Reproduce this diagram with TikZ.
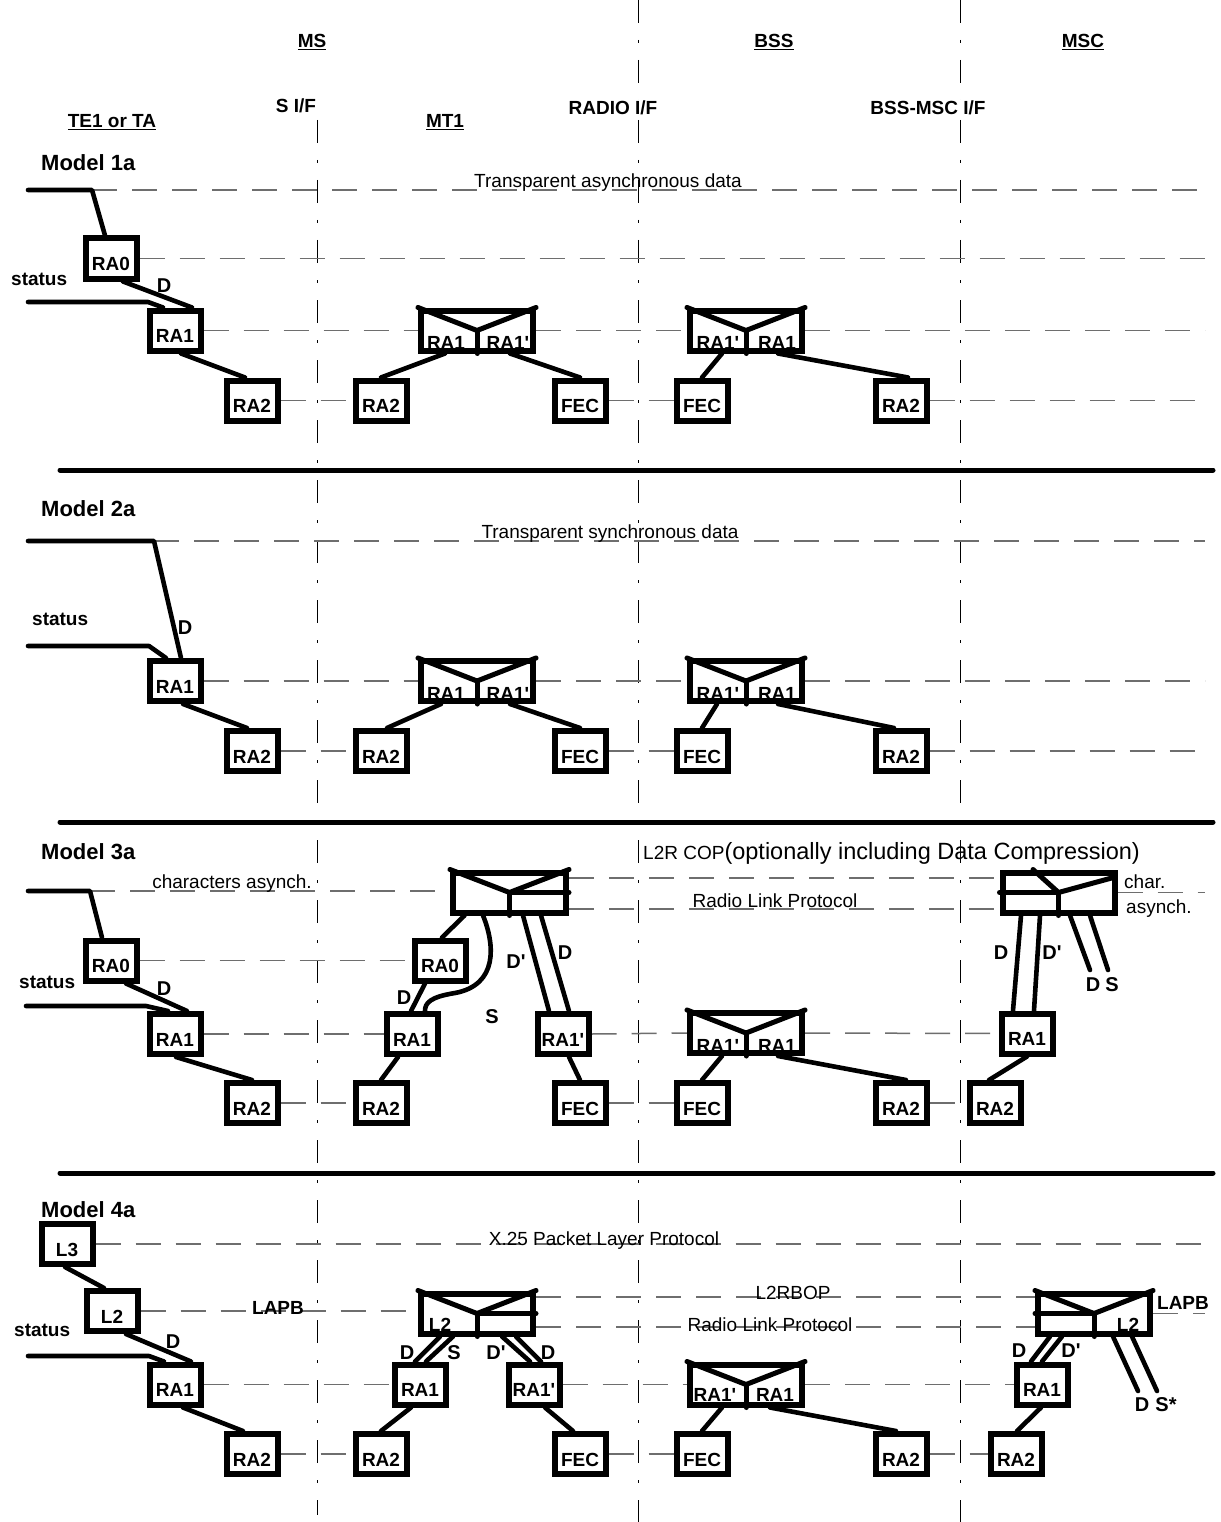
\documentclass[tikz,border=0pt]{standalone}
\usepackage{fontspec}
\newfontfamily\arialf{Liberation Sans}
\usetikzlibrary{backgrounds}
\definecolor{protogray}{RGB}{110,110,110}
\tikzset{
  box/.style={draw, line width=6pt, fill=white, minimum width=51pt, minimum height=40pt, inner sep=0pt, font=\arialf\bfseries\fontsize{19}{19}\selectfont, text height=24pt, text depth=0pt},
  cbox/.style={draw, line width=6pt, fill=white, minimum width=112pt, minimum height=40pt, inner sep=0pt},
  split/.style={line width=5pt, line cap=round, line join=round},
  conn/.style={line width=4.6pt, line cap=round, line join=round},
  proto/.style={draw=protogray, line width=1.5pt, dash pattern=on 25pt off 15pt},
  ifline/.style={draw=black, line width=1pt, dash pattern=on 23pt off 17pt on 3pt off 17pt},
  sepline/.style={line width=5pt, line cap=round},
  hlbl/.style={inner sep=0pt, anchor=base, font=\arialf\bfseries\fontsize{19}{19}\selectfont},
  mlbl/.style={inner sep=0pt, anchor=base west, font=\arialf\bfseries\fontsize{22}{22}\selectfont},
  slbl/.style={inner sep=0pt, anchor=base west, font=\arialf\bfseries\fontsize{19}{19}\selectfont},
  sig/.style={inner sep=0pt, anchor=center, font=\arialf\bfseries\fontsize{20}{20}\selectfont},
  blbl/.style={inner sep=0pt, anchor=base, font=\arialf\bfseries\fontsize{19}{19}\selectfont},
  ptext/.style={inner sep=0pt, anchor=base, font=\arialf\fontsize{19}{19}\selectfont},
}
\begin{document}
\begin{tikzpicture}[x=1pt,y=-1pt]
\useasboundingbox (0,0) rectangle (1220,1522);
\coordinate (R) at (1205,0);

% ---------------- headings
\node[hlbl] (hms) at (312,48) {\underline{MS}};
\node[hlbl] (hbss) at (774,48) {\underline{BSS}};
\node[hlbl] (hmsc) at (1083,48) {\underline{MSC}};
\node[hlbl] (hsif) at (296,113) {S I/F};
\node[hlbl,fill=white,inner sep=1pt] (hradio) at (613,115) {RADIO I/F};
\node[hlbl,fill=white,inner sep=1pt] (hbssmsc) at (928,115) {BSS-MSC I/F};
\node[hlbl] (hte) at (112,128) {\underline{TE1 or TA}};
\node[hlbl] (hmt) at (445,128) {\underline{MT1}};

% ---------------- separators
\coordinate (s1l) at (60,470); \coordinate (s1r) at (1213,470);
\coordinate (s2l) at (60,822); \coordinate (s2r) at (1213,822);
\coordinate (s3l) at (60,1173); \coordinate (s3r) at (1213,1173);
\draw[sepline] (s1l) -- (s1r);
\draw[sepline] (s2l) -- (s2r);
\draw[sepline] (s3l) -- (s3r);

% =============== MODEL 1a
\node[mlbl] (m1t) at (41,171) {Model 1a};
\node[slbl] (m1s) at (11,285) {status};
\node[ptext] (m1p) at (608,188) {Transparent asynchronous data};
\node[box] (m1ra0) at (111,258.5) {RA0};
\node[box] (m1ra1) at (175,330.5) {RA1};
\node[box] (m1ra2) at (252,400.5) {RA2};
\node[box] (m1mra2) at (381,400.5) {RA2};
\node[cbox] (m1mc) at (477,330.5) {};
\node[box] (m1mfec) at (580,400.5) {FEC};
\node[cbox] (m1bc) at (746,330.5) {};
\node[box] (m1bfec) at (702,400.5) {FEC};
\node[box] (m1bra2) at (901,400.5) {RA2};
\draw[split] (m1mc.north west) -- (m1mc.center) -- (m1mc.north east);
\draw[split] (m1mc.center) -- (m1mc.south);
\draw[split] (m1bc.north west) -- (m1bc.center) -- (m1bc.north east);
\draw[split] (m1bc.center) -- (m1bc.south);
\node[blbl] at ([xshift=-31pt,yshift=4pt]m1mc.south) {RA1};
\node[blbl] at ([xshift=31pt,yshift=4pt]m1mc.south) {RA1'};
\node[blbl] at ([xshift=-28pt,yshift=4pt]m1bc.south) {RA1'};
\node[blbl] at ([xshift=31pt,yshift=4pt]m1bc.south) {RA1};
\coordinate (m1in) at (28,190); \coordinate (m1bend) at (92,190);
\coordinate (m1st) at (28,302); \coordinate (m1stb) at (148,302);
\draw[conn] (m1in) -- (m1bend) -- ([xshift=-6pt]m1ra0.north);
\draw[conn] ([xshift=12pt]m1ra0.south) -- ([xshift=17pt]m1ra1.north);
\draw[conn] (m1st) -- (m1stb) -- ([xshift=-12pt]m1ra1.north);
\draw[conn] ([xshift=6pt]m1ra1.south) -- ([xshift=-7pt]m1ra2.north);
\draw[conn] ([xshift=-32pt]m1mc.south) -- (m1mra2.north);
\draw[conn] ([xshift=33pt]m1mc.south) -- (m1mfec.north);
\draw[conn] ([xshift=-24pt]m1bc.south) -- (m1bfec.north);
\draw[conn] ([xshift=32pt]m1bc.south) -- ([xshift=7pt]m1bra2.north);
\node[sig] at (164,286) {D};

% =============== MODEL 2a
\node[mlbl] (m2t) at (41,516) {Model 2a};
\node[slbl] (m2s) at (32,625) {status};
\node[ptext] (m2p) at (610,538) {Transparent synchronous data};
\node[box] (m2ra1) at (175,681) {RA1};
\node[box] (m2ra2) at (252,751) {RA2};
\node[box] (m2mra2) at (381,751) {RA2};
\node[cbox] (m2mc) at (477,681) {};
\node[box] (m2mfec) at (580,751) {FEC};
\node[cbox] (m2bc) at (746,681) {};
\node[box] (m2bfec) at (702,751) {FEC};
\node[box] (m2bra2) at (901,751) {RA2};
\draw[split] (m2mc.north west) -- (m2mc.center) -- (m2mc.north east);
\draw[split] (m2mc.center) -- (m2mc.south);
\draw[split] (m2bc.north west) -- (m2bc.center) -- (m2bc.north east);
\draw[split] (m2bc.center) -- (m2bc.south);
\node[blbl] at ([xshift=-31pt,yshift=4pt]m2mc.south) {RA1};
\node[blbl] at ([xshift=31pt,yshift=4pt]m2mc.south) {RA1'};
\node[blbl] at ([xshift=-28pt,yshift=4pt]m2bc.south) {RA1'};
\node[blbl] at ([xshift=31pt,yshift=4pt]m2bc.south) {RA1};
\coordinate (m2in) at (28,541); \coordinate (m2bend) at (154,541);
\coordinate (m2st) at (28,646); \coordinate (m2stb) at (149,646);
\draw[conn] (m2in) -- (m2bend) -- ([xshift=6pt]m2ra1.north);
\draw[conn] (m2st) -- (m2stb) -- ([xshift=-9pt]m2ra1.north);
\draw[conn] ([xshift=8pt]m2ra1.south) -- ([xshift=-5pt]m2ra2.north);
\draw[conn] ([xshift=-36pt]m2mc.south) -- ([xshift=6pt]m2mra2.north);
\draw[conn] ([xshift=33pt]m2mc.south) -- (m2mfec.north);
\draw[conn] ([xshift=-29pt]m2bc.south) -- (m2bfec.north);
\draw[conn] ([xshift=32pt]m2bc.south) -- ([xshift=-7pt]m2bra2.north);
\node[sig] at (185,628) {D};

% =============== MODEL 3a
\node[mlbl] (m3t) at (41,859) {Model 3a};
\node[slbl] (m3s) at (19,988) {status};
\node[ptext] (m3p1) at (232,888) {characters asynch.};
\node[ptext,anchor=base west] (m3p2) at (643,859) {L2R COP{\fontsize{23.5}{24}\selectfont(optionally including Data Compression)}};
\node[ptext] (m3p3) at (775,907) {Radio Link Protocol};
\node[ptext,anchor=base west] (m3p4) at (1124,888) {char.};
\node[ptext,anchor=base west] (m3p5) at (1126,913) {asynch.};
\node[box] (m3ra0) at (111,960.5) {RA0};
\node[box] (m3ra1) at (175,1034) {RA1};
\node[box] (m3ra2) at (252,1103) {RA2};
\node[cbox,minimum width=113pt] (m3mc) at (509.5,892.5) {};
\node[box] (m3mra0) at (440,960.5) {RA0};
\node[box] (m3mra1) at (412,1034) {RA1};
\node[box] (m3mra2) at (381,1103) {RA2};
\node[box] (m3mra1p) at (563,1034) {RA1'};
\node[box] (m3mfec) at (580,1103) {FEC};
\node[cbox] (m3bc) at (746,1033) {};
\node[box] (m3bfec) at (702,1103) {FEC};
\node[box] (m3bra2) at (901,1103) {RA2};
\node[cbox] (m3sc) at (1058.5,892.5) {};
\node[box] (m3sra1) at (1027,1033.5) {RA1};
\node[box] (m3sra2) at (995,1103) {RA2};
\draw[split] (m3mc.north west) -- (m3mc.center) -- (m3mc.north east);
\draw[split] (m3mc.east) -- (m3mc.center) -- (m3mc.south);
\draw[split] (m3bc.north west) -- (m3bc.center) -- (m3bc.north east);
\draw[split] (m3bc.center) -- (m3bc.south);
\draw[split] ([xshift=-25.5pt]m3sc.north) -- (m3sc.center) -- ([xshift=-4pt,yshift=15pt]m3sc.east);
\draw[split] (m3sc.west) -- (m3sc.center) -- (m3sc.south);
\node[blbl] at ([xshift=-28pt,yshift=4pt]m3bc.south) {RA1'};
\node[blbl] at ([xshift=31pt,yshift=4pt]m3bc.south) {RA1};
\coordinate (m3in) at (28,891); \coordinate (m3bend) at (90,891);
\coordinate (m3st) at (26,1006); \coordinate (m3stb) at (146,1006);
\coordinate (m3sm) at (455,993);
\coordinate (m3ds1) at (1090,970); \coordinate (m3ds2) at (1108,970);
\draw[conn] (m3in) -- (m3bend) -- ([xshift=-9pt]m3ra0.north);
\draw[conn] ([xshift=15pt]m3ra0.south) -- ([xshift=12pt]m3ra1.north);
\draw[conn] (m3st) -- (m3stb) -- ([xshift=-7pt]m3ra1.north);
\draw[conn] ([xshift=1pt]m3ra1.south) -- (m3ra2.north);
\draw[conn] ([xshift=-45pt]m3mc.south) -- ([xshift=2pt]m3mra0.north);
\draw[conn] ([xshift=-26.5pt]m3mc.south) .. controls (495,945) and (498,985) .. (m3sm) .. controls (430,997) and (425,1003) .. ([xshift=13pt]m3mra1.north);
\draw[conn] ([xshift=-15pt]m3mra0.south) -- ([xshift=-1pt]m3mra1.north);
\draw[conn] ([xshift=-14pt]m3mra1.south) -- (m3mra2.north);
\draw[conn] ([xshift=13.5pt]m3mc.south) -- ([xshift=-14pt]m3mra1p.north);
\draw[conn] ([xshift=31.5pt]m3mc.south) -- ([xshift=6pt]m3mra1p.north);
\draw[conn] ([xshift=6pt]m3mra1p.south) -- (m3mfec.north);
\draw[conn] ([xshift=-24pt]m3bc.south) -- (m3bfec.north);
\draw[conn] ([xshift=32pt]m3bc.south) -- ([xshift=5pt]m3bra2.north);
\draw[conn] ([xshift=-37.5pt]m3sc.south) -- ([xshift=-14pt]m3sra1.north);
\draw[conn] ([xshift=-18.5pt]m3sc.south) -- ([xshift=7pt]m3sra1.north);
\draw[conn] ([xshift=11.5pt]m3sc.south) -- (m3ds1);
\draw[conn] ([xshift=31.5pt]m3sc.south) -- (m3ds2);
\draw[conn] (m3sra1.south) -- ([xshift=-6pt]m3sra2.north);
\node[sig] at (164,989) {D};
\node[sig] at (404,998) {D};
\node[sig] at (492,1017) {S};
\node[sig] at (516,962) {D'};
\node[sig] at (565,953) {D};
\node[sig] at (1001,953) {D};
\node[sig] at (1052,953) {D'};
\node[sig] at (1093,985) {D};
\node[sig] at (1112,985) {S};

% =============== MODEL 4a
\node[mlbl] (m4t) at (41,1217) {Model 4a};
\node[slbl] (m4s) at (14,1336) {status};
\node[ptext] (m4p1) at (604,1245) {X.25 Packet Layer Protocol};
\node[ptext] (m4p2) at (793,1299) {L2RBOP};
\node[ptext] (m4p3) at (770,1331) {Radio Link Protocol};
\node[hlbl] (m4lapb1) at (278,1314) {LAPB};
\node[hlbl] (m4lapb2) at (1183,1309) {LAPB};
\node[box] (m4l3) at (67,1244) {L3};
\node[box] (m4l2) at (112,1311) {L2};
\node[box] (m4ra1) at (175,1384.5) {RA1};
\node[box] (m4ra2) at (252,1454) {RA2};
\node[cbox] (m4mc) at (477,1313.5) {};
\node[box] (m4mra1) at (420,1384.5) {RA1};
\node[box] (m4mra2) at (381,1454) {RA2};
\node[box] (m4mra1p) at (534,1384.5) {RA1'};
\node[box] (m4mfec) at (580,1454) {FEC};
\node[cbox] (m4bc) at (746,1384.5) {};
\node[box] (m4bfec) at (702,1454) {FEC};
\node[box] (m4bra2) at (901,1454) {RA2};
\node[cbox] (m4sc) at (1094,1313.5) {};
\node[box] (m4sra1) at (1042,1384.5) {RA1};
\node[box] (m4sra2) at (1016,1454) {RA2};
\draw[split] (m4mc.north west) -- (m4mc.center) -- (m4mc.north east);
\draw[split] (m4mc.east) -- (m4mc.center) -- (m4mc.south);
\draw[split] (m4bc.north west) -- (m4bc.center) -- (m4bc.north east);
\draw[split] (m4bc.center) -- (m4bc.south);
\draw[split] (m4sc.north west) -- (m4sc.center) -- (m4sc.north east);
\draw[split] (m4sc.west) -- (m4sc.center) -- (m4sc.south);
\node[blbl] at ([xshift=-37pt,yshift=5pt]m4mc.south) {L2};
\node[blbl] at ([xshift=34pt,yshift=5pt]m4sc.south) {L2};
\node[blbl] at ([xshift=-31pt,yshift=6pt]m4bc.south) {RA1'};
\node[blbl] at ([xshift=29pt,yshift=6pt]m4bc.south) {RA1};
\coordinate (m4st) at (28,1356); \coordinate (m4stb) at (149,1356);
\coordinate (m4ds1) at (1138,1391); \coordinate (m4ds2) at (1157,1391);
\draw[conn] ([xshift=-2pt]m4l3.south) -- ([xshift=-8pt]m4l2.north);
\draw[conn] ([xshift=14pt]m4l2.south) -- ([xshift=16pt]m4ra1.north);
\draw[conn] (m4st) -- (m4stb) -- ([xshift=-11pt]m4ra1.north);
\draw[conn] ([xshift=8pt]m4ra1.south) -- ([xshift=-9pt]m4ra2.north);
\draw[conn] ([xshift=-37pt]m4mc.south) -- ([xshift=-5pt]m4mra1.north);
\draw[conn] ([xshift=-24pt]m4mc.south) -- ([xshift=6pt]m4mra1.north);
\draw[conn] ([xshift=25pt]m4mc.south) -- ([xshift=-4pt]m4mra1p.north);
\draw[conn] ([xshift=39pt]m4mc.south) -- ([xshift=7pt]m4mra1p.north);
\draw[conn] ([xshift=-9pt]m4mra1.south) -- (m4mra2.north);
\draw[conn] ([xshift=11pt]m4mra1p.south) -- ([xshift=-7pt]m4mfec.north);
\draw[conn] ([xshift=-24pt]m4bc.south) -- (m4bfec.north);
\draw[conn] ([xshift=24pt]m4bc.south) -- ([xshift=-5pt]m4bra2.north);
\draw[conn] ([xshift=-44pt]m4sc.south) -- ([xshift=-11pt]m4sra1.north);
\draw[conn] ([xshift=-32pt]m4sc.south) -- (m4sra1.north);
\draw[conn] ([xshift=19pt]m4sc.south) -- (m4ds1);
\draw[conn] ([xshift=38pt]m4sc.south) -- (m4ds2);
\draw[conn] ([xshift=-1pt]m4sra1.south) -- ([xshift=1pt]m4sra2.north);
\node[sig] at (173,1342) {D};
\node[sig] at (407,1353) {D};
\node[sig] at (454,1353) {S};
\node[sig] at (496,1353) {D'};
\node[sig] at (548,1353) {D};
\node[sig] at (1019,1351) {D};
\node[sig] at (1071,1351) {D'};
\node[sig] at (1142,1405) {D};
\node[sig] at (1166,1405) {S*};

% =============== background: protocol levels and interfaces
\begin{pgfonlayer}{background}
\fill[white] (0,0) rectangle (1220,1522);
% interfaces
\draw[ifline] (317,120) -- (317,1515);
\draw[ifline] (638,0) -- (638,1522);
\draw[ifline] (960,0) -- (960,1522);
% model 1
\draw[proto] (m1bend) -- (m1bend -| R);
\draw[proto] (m1ra0.east) -- (m1ra0.east -| R);
\draw[proto] (m1ra1.east) -- (m1mc.west);
\draw[proto] (m1mc.east) -- (m1bc.west);
\draw[proto] (m1bc.east) -- (m1bc.east -| R);
\draw[proto] (m1ra2.east) -- (m1mra2.west);
\draw[proto] (m1mfec.east) -- (m1bfec.west);
\draw[proto] (m1bra2.east) -- (m1bra2.east -| R);
% model 2
\draw[proto] (m2bend) -- (m2bend -| R);
\draw[proto] (m2ra1.east) -- (m2mc.west);
\draw[proto] (m2mc.east) -- (m2bc.west);
\draw[proto] (m2bc.east) -- (m2bc.east -| R);
\draw[proto] (m2ra2.east) -- (m2mra2.west);
\draw[proto] (m2mfec.east) -- (m2bfec.west);
\draw[proto] (m2bra2.east) -- (m2bra2.east -| R);
% model 3
\draw[proto] (m3bend) -- (m3bend -| m3mc.west);
\draw[proto] (m3sc.east) -- (m3sc.east -| R);
\draw[proto] ([yshift=14.5pt]m3mc.east) -- ([yshift=14.5pt]m3sc.west);
\draw[proto] ([yshift=-16.5pt]m3mc.east) -- ([yshift=-16.5pt]m3sc.west);
\draw[proto] (m3ra0.east) -- (m3mra0.west);
\draw[proto] (m3ra1.east) -- (m3mra1.west);
\draw[proto] (m3mra1p.east) -- (m3bc.west);
\draw[proto] (m3bc.east) -- (m3sra1.west);
\draw[proto] (m3ra2.east) -- (m3mra2.west);
\draw[proto] (m3mfec.east) -- (m3bfec.west);
\draw[proto] (m3bra2.east) -- (m3sra2.west);
% model 4
\draw[proto] (m4l3.east) -- (m4l3.east -| R);
\draw[proto] ([yshift=16.5pt]m4mc.east) -- ([yshift=16.5pt]m4sc.west);
\draw[proto] ([yshift=-13.5pt]m4mc.east) -- ([yshift=-13.5pt]m4sc.west);
\draw[proto] (m4l2.east) -- (m4l2.east -| m4mc.west);
\draw[proto] (m4sc.east) -- (m4sc.east -| R);
\draw[proto] (m4ra1.east) -- (m4mra1.west);
\draw[proto] (m4mra1p.east) -- (m4bc.west);
\draw[proto] (m4bc.east) -- (m4sra1.west);
\draw[proto] (m4ra2.east) -- (m4mra2.west);
\draw[proto] (m4mfec.east) -- (m4bfec.west);
\draw[proto] (m4bra2.east) -- (m4sra2.west);
\end{pgfonlayer}
\end{tikzpicture}
\end{document}
